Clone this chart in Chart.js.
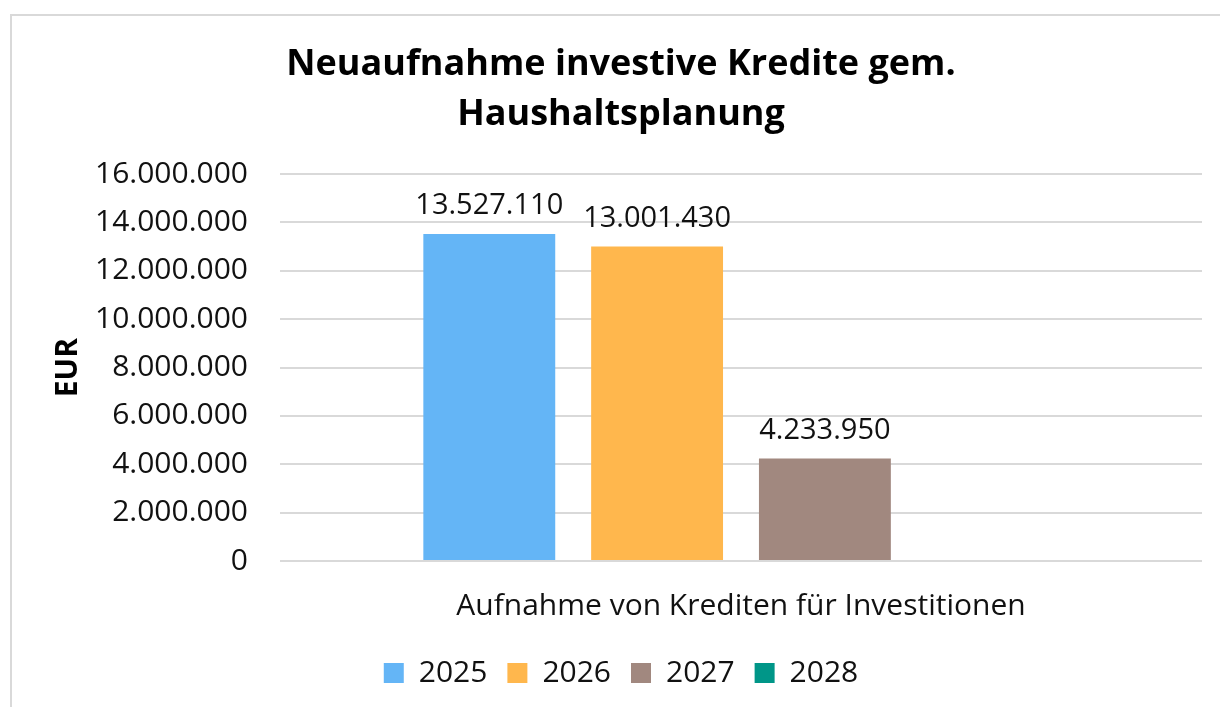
<!DOCTYPE html>
<html>
<head>
<meta charset="utf-8">
<script src="https://cdn.jsdelivr.net/npm/chart.js@4.4.0/dist/chart.umd.min.js"></script>
<style>
  html,body{margin:0;padding:0;background:#fff;overflow:hidden;}
  #wrap{position:relative;width:1220px;height:707px;}
  #frame{position:absolute;left:10px;top:14px;width:1230px;height:720px;border:2px solid #d9d9d9;box-sizing:border-box;pointer-events:none;}
  canvas{position:absolute;left:0;top:0;}
</style>
</head>
<body>
<div id="wrap">
  <canvas id="c" width="1220" height="707"></canvas>
  <div id="frame"></div>
</div>
<script>
/* ===== Daten ===== */
const categories = ["Aufnahme von Krediten für Investitionen"];
const years = ["2025", "2026", "2027", "2028"];
const values2025 = [13527110];
const values2026 = [13001430];
const values2027 = [4233950];
const values2028 = [null];
const yTicks = [0, 2000000, 4000000, 6000000, 8000000, 10000000, 12000000, 14000000, 16000000];
const colors = ["#64B5F6", "#FFB74D", "#A1887F", "#009688"];

const fmt = v => String(Math.round(v)).replace(/\B(?=(\d{3})+(?!\d))/g, ".");
const FONT = "'Open Sans', 'Noto Sans', sans-serif";

/* ===== Wertebeschriftung ===== */
const valueLabels = {
  id: "valueLabels",
  afterDatasetsDraw(chart) {
    const ctx = chart.ctx;
    ctx.save();
    ctx.font = "29px " + FONT;
    ctx.fillStyle = "#111";
    ctx.textAlign = "center";
    ctx.textBaseline = "alphabetic";
    chart.data.datasets.forEach((ds, i) => {
      const meta = chart.getDatasetMeta(i);
      meta.data.forEach((bar, j) => {
        const v = ds.data[j];
        if (v == null) return;
        ctx.fillText(fmt(v), bar.x, bar.y - 20);
      });
    });
    ctx.restore();
  }
};

const datasets = [values2025, values2026, values2027, values2028].map((d, i) => ({
  label: years[i],
  data: d,
  backgroundColor: colors[i],
  borderWidth: 0,
  categoryPercentage: 0.728,
  barPercentage: 0.786
}));

new Chart(document.getElementById("c"), {
  type: "bar",
  data: { labels: categories, datasets },
  options: {
    responsive: false,
    animation: false,
    devicePixelRatio: 1,
    layout: { padding: { left: 40, right: 18, top: 40, bottom: 9 } },
    plugins: {
      title: {
        display: true,
        text: ["Neuaufnahme investive Kredite gem.", "Haushaltsplanung"],
        color: "#000",
        font: { family: FONT, size: 36, weight: "bold", lineHeight: 1.39 },
        padding: { top: 0, bottom: 34 }
      },
      legend: {
        position: "bottom",
        labels: {
          color: "#111",
          font: { family: FONT, size: 30 },
          boxWidth: 20,
          boxHeight: 20,
          padding: 20
        }
      },
      tooltip: { enabled: false }
    },
    scales: {
      x: {
        grid: { display: false, drawTicks: false },
        border: { display: false },
        // tick padding zählt doppelt in der Achsenhöhe
        afterFit: s => { s.paddingLeft = 0; s.paddingRight = 0; s.height -= 13; },
        ticks: {
          color: "#111",
          font: { family: FONT, size: 30 },
          padding: 27
        }
      },
      y: {
        min: 0,
        max: 16000000,
        afterBuildTicks: axis => { axis.ticks = yTicks.map(v => ({ value: v })); },
        afterFit: axis => { axis.width -= 32; },
        grid: { color: "#d9d9d9", lineWidth: 2, drawTicks: false },
        border: { display: false },
        title: {
          display: true,
          text: "EUR",
          color: "#000",
          font: { family: FONT, size: 30, weight: "bold" },
          padding: { top: 10, bottom: 9 }
        },
        ticks: {
          color: "#111",
          font: { family: FONT, size: 30 },
          padding: 32,
          callback: v => fmt(v)
        }
      }
    }
  },
  plugins: [valueLabels]
});
</script>
</body>
</html>
